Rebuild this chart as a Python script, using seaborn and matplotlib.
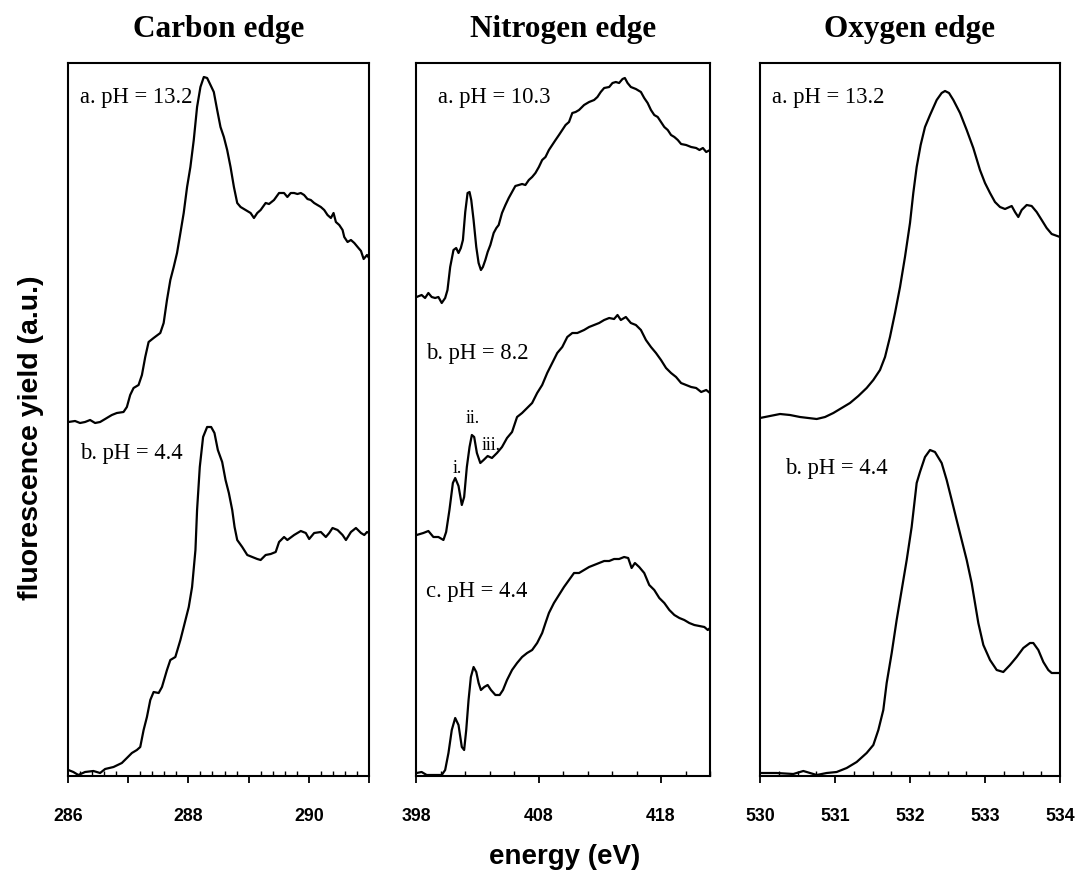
import numpy as np
import pandas as pd
import matplotlib
matplotlib.use("Agg")
import matplotlib.pyplot as plt
import seaborn as sns
from matplotlib.ticker import MultipleLocator, FuncFormatter, FixedLocator

# ---------------- data ----------------
# Carbon edge
c_a_ev = [286.006, 286.117, 286.200, 286.283, 286.367, 286.450, 286.533, 286.617, 286.672, 286.728,
          286.811, 286.922, 286.978, 287.033, 287.089, 287.172, 287.228, 287.283, 287.339, 287.422,
          287.533, 287.589, 287.644, 287.700, 287.756, 287.811, 287.867, 287.922, 287.978, 288.033,
          288.089, 288.144, 288.200, 288.256, 288.311, 288.367, 288.422, 288.478, 288.533, 288.589,
          288.644, 288.700, 288.756, 288.811, 288.867, 288.950, 289.033, 289.089, 289.144, 289.200,
          289.283, 289.339, 289.422, 289.506, 289.589, 289.644, 289.700, 289.756, 289.811, 289.867,
          289.922, 289.978, 290.033, 290.089, 290.144, 290.200, 290.256, 290.311, 290.367, 290.411,
          290.450, 290.506, 290.561, 290.589, 290.644, 290.700, 290.756, 290.811, 290.867, 290.911,
          290.967, 291.000]
c_a_y = [353, 354, 352, 353, 355, 352, 353, 356, 358, 360,
         362, 363, 368, 380, 387, 390, 400, 418, 433, 437,
         442, 452, 475, 495, 508, 522, 542, 562, 588, 608,
         635, 668, 688, 698, 697, 690, 683, 665, 648, 638,
         625, 608, 588, 572, 568, 565, 562, 557, 562, 565,
         572, 571, 575, 582, 582, 578, 582, 582, 581, 582,
         580, 576, 575, 572, 570, 568, 565, 560, 557, 562,
         553, 550, 545, 538, 533, 535, 532, 528, 524, 516,
         520, 517]
c_b_ev = [286.006, 286.089, 286.172, 286.283, 286.422, 286.533, 286.617, 286.756, 286.894, 286.978,
          287.061, 287.144, 287.200, 287.256, 287.311, 287.367, 287.422, 287.506, 287.561, 287.644,
          287.700, 287.783, 287.867, 287.922, 288.006, 288.061, 288.117, 288.144, 288.189, 288.244,
          288.311, 288.378, 288.433, 288.489, 288.561, 288.617, 288.672, 288.728, 288.767, 288.811,
          288.894, 288.978, 289.061, 289.144, 289.200, 289.283, 289.367, 289.450, 289.506, 289.589,
          289.644, 289.756, 289.867, 289.950, 290.006, 290.089, 290.200, 290.283, 290.339, 290.394,
          290.478, 290.561, 290.617, 290.700, 290.783, 290.867, 290.922, 290.967, 291.000]
c_b_y = [5, 3, 0, 3, 4, 2, 6, 8, 12, 17,
         22, 25, 28, 45, 58, 75, 83, 82, 88, 105,
         115, 118, 135, 148, 168, 188, 225, 265, 308, 338,
         348, 348, 342, 325, 313, 295, 282, 265, 248, 235,
         228, 220, 218, 216, 215, 220, 221, 223, 233, 238,
         235, 240, 244, 242, 236, 242, 243, 238, 242, 247,
         245, 240, 235, 243, 247, 242, 240, 243, 242]

# Nitrogen edge
n_a_ev = [398.05, 398.46, 398.74, 399.01, 399.28, 399.56, 399.83, 400.10, 400.38, 400.57,
          400.79, 401.06, 401.28, 401.47, 401.66, 401.83, 402.02, 402.21, 402.37, 402.51,
          402.70, 402.92, 403.11, 403.30, 403.46, 403.66, 403.85, 404.07, 404.34, 404.56,
          404.75, 405.02, 405.30, 405.57, 405.84, 406.11, 406.39, 406.66, 406.93, 407.21,
          407.48, 407.75, 408.03, 408.30, 408.57, 408.85, 409.12, 409.39, 409.67, 409.94,
          410.21, 410.49, 410.76, 411.03, 411.31, 411.72, 412.13, 412.54, 412.81, 413.08,
          413.36, 413.77, 414.04, 414.31, 414.58, 414.86, 415.05, 415.27, 415.54, 415.95,
          416.36, 416.63, 416.91, 417.18, 417.45, 417.73, 418.00, 418.27, 418.55, 418.82,
          419.09, 419.37, 419.64, 420.05, 420.46, 420.87, 421.14, 421.42, 421.69, 422.00]
n_a_y = [478, 480, 477, 482, 478, 477, 478, 472, 477, 485,
         508, 525, 527, 522, 527, 535, 563, 582, 583, 575,
         555, 528, 512, 505, 508, 515, 523, 530, 542, 547,
         550, 562, 570, 577, 583, 589, 590, 591, 590, 595,
         598, 602, 608, 615, 618, 625, 630, 635, 640, 645,
         650, 653, 662, 663, 665, 670, 673, 675, 678, 683,
         687, 688, 692, 693, 692, 696, 697, 692, 688, 686,
         683, 677, 672, 665, 660, 658, 653, 648, 645, 640,
         638, 635, 631, 630, 628, 627, 625, 627, 623, 625]
n_b_ev = [398.05, 398.60, 399.01, 399.42, 399.83, 400.24, 400.46, 400.73, 401.01, 401.20,
          401.47, 401.74, 401.93, 402.15, 402.37, 402.56, 402.75, 402.97, 403.25, 403.52,
          403.85, 404.20, 404.61, 405.02, 405.43, 405.84, 406.25, 406.66, 407.07, 407.48,
          407.89, 408.30, 408.71, 409.12, 409.53, 409.94, 410.35, 410.76, 411.17, 411.72,
          412.13, 412.54, 412.95, 413.36, 413.77, 414.17, 414.45, 414.72, 415.13, 415.54,
          415.95, 416.36, 416.77, 417.18, 417.59, 418.00, 418.41, 418.82, 419.23, 419.64,
          420.05, 420.46, 420.87, 421.28, 421.69, 422.00]
n_b_y = [240, 242, 244, 238, 238, 235, 243, 265, 292, 297,
         289, 270, 278, 308, 328, 340, 338, 322, 312, 315,
         319, 317, 322, 328, 337, 343, 358, 362, 367, 372,
         382, 390, 402, 412, 422, 428, 438, 442, 442, 445,
         448, 450, 452, 455, 457, 456, 460, 455, 458, 452,
         450, 445, 435, 428, 422, 415, 407, 402, 398, 392,
         390, 388, 387, 383, 385, 382]
n_c_ev = [398.05, 398.46, 398.87, 399.28, 399.69, 400.10, 400.38, 400.65, 400.92, 401.20,
          401.47, 401.74, 401.93, 402.10, 402.29, 402.48, 402.70, 402.92, 403.11, 403.30,
          403.57, 403.85, 404.12, 404.48, 404.83, 405.10, 405.43, 405.84, 406.25, 406.66,
          407.07, 407.48, 407.89, 408.30, 408.57, 408.85, 409.26, 409.67, 410.08, 410.49,
          410.90, 411.31, 411.72, 412.13, 412.54, 412.95, 413.36, 413.77, 414.17, 414.58,
          414.99, 415.32, 415.60, 415.87, 416.22, 416.63, 417.04, 417.45, 417.86, 418.27,
          418.68, 419.09, 419.50, 419.90, 420.31, 420.72, 421.13, 421.54, 421.82, 422.00]
n_c_y = [2, 3, 0, 0, 0, 0, 5, 22, 45, 57,
         50, 28, 25, 45, 75, 98, 108, 103, 92, 85,
         88, 90, 85, 80, 80, 85, 95, 105, 112, 118,
         122, 125, 132, 142, 152, 162, 172, 180, 188, 195,
         202, 202, 205, 208, 210, 212, 214, 214, 216, 216,
         218, 217, 207, 212, 208, 202, 190, 185, 177, 172,
         165, 160, 157, 155, 152, 150, 149, 148, 145, 147]

# Oxygen edge
o_a_ev = [530.000, 530.133, 530.267, 530.400, 530.533, 530.644, 530.756, 530.867, 530.978, 531.089,
          531.200, 531.311, 531.422, 531.511, 531.600, 531.667, 531.733, 531.800, 531.867, 531.933,
          532.000, 532.044, 532.089, 532.142, 532.200, 532.267, 532.356, 532.422, 532.467, 532.520,
          532.578, 532.667, 532.756, 532.844, 532.933, 533.000, 533.067, 533.133, 533.200, 533.267,
          533.356, 533.400, 533.444, 533.489, 533.556, 533.622, 533.689, 533.756, 533.822, 533.889,
          534.000]
o_a_y = [357, 359, 361, 360, 358, 357, 356, 358, 362, 367,
         372, 379, 387, 395, 405, 418, 438, 462, 488, 518,
         552, 582, 608, 630, 648, 660, 675, 682, 684, 682,
         675, 662, 645, 627, 605, 592, 582, 573, 568, 566,
         569, 563, 558, 565, 570, 569, 563, 555, 547, 541,
         538]
o_b_ev = [530.000, 530.222, 530.444, 530.578, 530.756, 530.889, 531.022, 531.156, 531.289, 531.422,
          531.511, 531.578, 531.644, 531.689, 531.756, 531.822, 531.889, 531.956, 532.022, 532.089,
          532.133, 532.200, 532.267, 532.333, 532.422, 532.489, 532.556, 532.622, 532.689, 532.756,
          532.822, 532.911, 532.978, 533.067, 533.156, 533.244, 533.333, 533.422, 533.511, 533.600,
          533.644, 533.711, 533.778, 533.844, 533.889, 534.000]
o_b_y = [2, 2, 1, 4, 0, 2, 3, 7, 13, 22,
         30, 45, 65, 92, 122, 155, 185, 215, 248, 292,
         303, 318, 325, 323, 312, 295, 275, 255, 235, 215,
         192, 152, 130, 115, 105, 103, 110, 118, 127, 132,
         132, 125, 113, 105, 102, 102]

panel_titles = ["Carbon edge", "Nitrogen edge", "Oxygen edge"]
carbon_labels = ["a. pH = 13.2", "b. pH = 4.4"]
nitrogen_labels = ["a. pH = 10.3", "b. pH = 8.2", "c. pH = 4.4"]
oxygen_labels = ["a. pH = 13.2", "b. pH = 4.4"]
peak_labels = ["i.", "ii.", "iii."]
x_label = "energy (eV)"
y_label = "fluorescence yield (a.u.)"

# ---------------- styling ----------------
sns.set_theme(style="ticks")
plt.rcParams["font.family"] = ["Liberation Sans", "DejaVu Sans"]
plt.rcParams["text.color"] = "black"
plt.rcParams["axes.labelcolor"] = "black"
plt.rcParams["xtick.color"] = "black"
SERIF = ["Liberation Serif", "DejaVu Serif"]

fig = plt.figure(figsize=(10.8, 8.71), dpi=100)
H = 871.0
W = 1080.0
top_px, bot_px = 63, 776
axes_px = [(68, 369), (416, 710), (760, 1060)]
axs = []
for l, r in axes_px:
    axs.append(fig.add_axes([l / W, (H - bot_px) / H, (r - l) / W, (bot_px - top_px) / H]))

series = [
    [(c_a_ev, c_a_y), (c_b_ev, c_b_y)],
    [(n_a_ev, n_a_y), (n_b_ev, n_b_y), (n_c_ev, n_c_y)],
    [(o_a_ev, o_a_y), (o_b_ev, o_b_y)],
]
xlims = [(286, 291), (398, 422), (530, 534)]

for ax, sers, xl in zip(axs, series, xlims):
    for ev, y in sers:
        df = pd.DataFrame({"ev": ev, "y": y})
        sns.lineplot(data=df, x="ev", y="y", ax=ax, color="black", linewidth=1.6,
                     sort=False, estimator=None)
    ax.set_xlim(*xl)
    ax.set_ylim(-1, 712)
    ax.set_yticks([])
    ax.set_xlabel("")
    ax.set_ylabel("")
    for s in ax.spines.values():
        s.set_visible(True)
        s.set_linewidth(1.5)
        s.set_color("black")

# ticks
def fmt_every(step):
    def f(v, pos):
        if abs(v / step - round(v / step)) < 1e-6:
            return f"{v:.0f}"
        return ""
    return FuncFormatter(f)

axs[0].xaxis.set_major_locator(MultipleLocator(1))
axs[0].xaxis.set_major_formatter(fmt_every(2))
axs[0].xaxis.set_minor_locator(MultipleLocator(0.2))
axs[1].xaxis.set_major_locator(FixedLocator([398, 408, 418]))
axs[1].xaxis.set_minor_locator(MultipleLocator(2))
axs[2].xaxis.set_major_locator(MultipleLocator(1))
axs[2].xaxis.set_minor_locator(MultipleLocator(0.25))
for ax in axs:
    ax.tick_params(axis="x", which="major", direction="out", length=5, width=1.3,
                   colors="black", pad=18, labelsize=12.8)
    ax.tick_params(axis="x", which="minor", direction="in", length=3.5, width=1.0,
                   colors="black")
    for lab in ax.get_xticklabels():
        lab.set_fontweight("bold")

# titles
for ax, (l, r), t in zip(axs, axes_px, panel_titles):
    fig.text(((l + r) / 2) / W, 1 - 30 / H, t, ha="center", va="center",
             fontsize=22.5, fontweight="bold", family=SERIF, color="black")

# panel labels
tk = dict(ha="left", va="center", fontsize=16.3, family=SERIF, color="black")
axs[0].text(286.2, 678, carbon_labels[0], **tk)
axs[0].text(286.2, 322, carbon_labels[1], **tk)
axs[1].text(399.8, 677, nitrogen_labels[0], **tk)
axs[1].text(398.8, 422, nitrogen_labels[1], **tk)
axs[1].text(398.8, 183, nitrogen_labels[2], **tk)
axs[2].text(530.16, 678, oxygen_labels[0], **tk)
axs[2].text(530.33, 307, oxygen_labels[1], **tk)
pk = dict(ha="center", va="center", fontsize=13, family=SERIF, color="black")
axs[1].text(401.4, 307, peak_labels[0], **pk)
axs[1].text(402.6, 357, peak_labels[1], **pk)
axs[1].text(404.1, 330, peak_labels[2], **pk)

fig.text(565 / W, 1 - 857 / H, x_label, ha="center", va="center",
         fontsize=20, fontweight="bold", color="black")
fig.text(31 / W, 1 - 438 / H, y_label, ha="center", va="center", rotation=90,
         fontsize=20.5, fontweight="bold", color="black")

fig.savefig("out.png", dpi=100, facecolor="white")
